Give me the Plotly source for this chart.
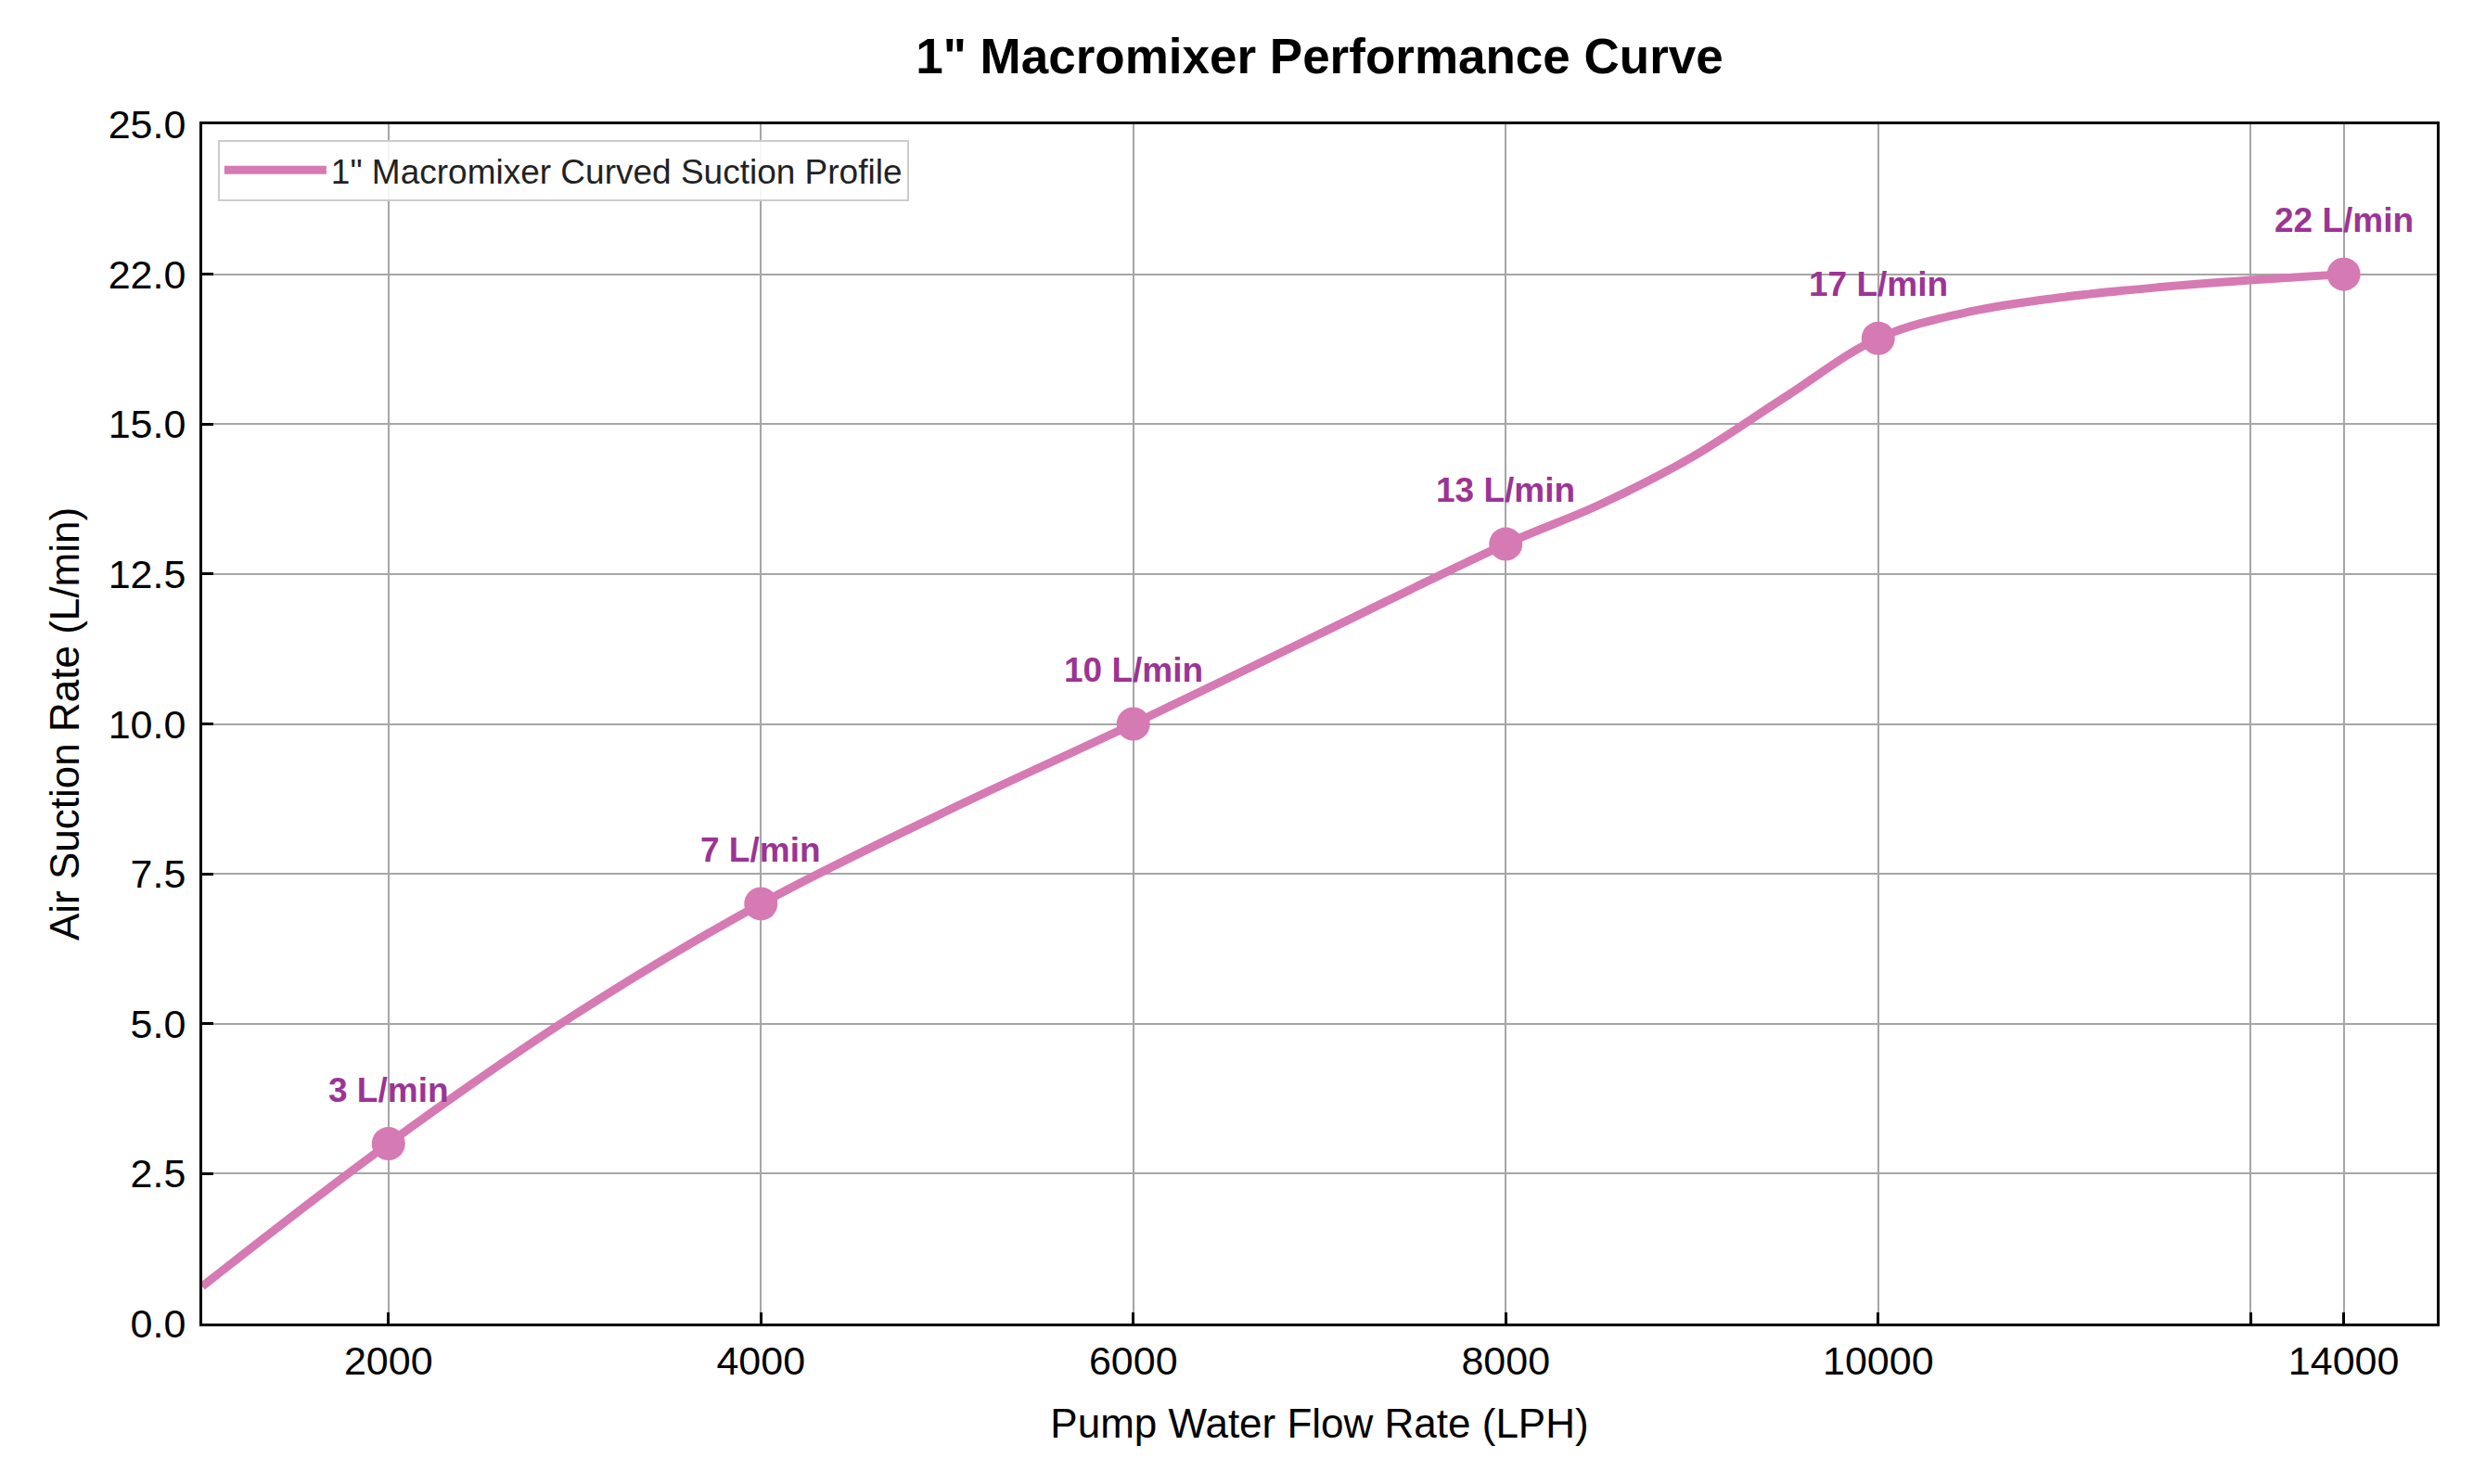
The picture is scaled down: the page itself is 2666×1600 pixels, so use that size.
import plotly.graph_objects as go

# curve (x in LPH, y on the drawn axis)
curve_flow = [1000, 2000, 3000, 4000, 5000, 6000, 7000, 8000, 8500, 9000,
              9500, 10000, 10500, 11000, 11500, 12000, 12500]
curve_suction = [0.62, 3.0, 5.15, 7.0, 8.55, 10.0, 11.5, 13.0, 13.65, 14.45,
                 15.45, 16.43, 16.88, 17.12, 17.28, 17.4, 17.5]

# labelled measurement points
point_flow = [2000, 4000, 6000, 8000, 10000, 12500]
point_suction = [3.0, 7.0, 10.0, 13.0, 16.43, 17.5]
point_labels = ["3 L/min", "7 L/min", "10 L/min", "13 L/min", "17 L/min", "22 L/min"]

# tick labels as printed on the chart
x_tickvals = [2000, 4000, 6000, 8000, 10000, 12000, 12500]
x_ticktext = ["2000", "4000", "6000", "8000", "10000", "", "14000"]
y_tickvals = [0, 2.5, 5, 7.5, 10, 12.5, 15, 17.5, 20]
y_ticktext = ["0.0", "2.5", "5.0", "7.5", "10.0", "12.5", "15.0", "22.0", "25.0"]

line_col = "#D67AB3"
label_col = "#9B3494"
font_fam = "Liberation Sans, Arial, sans-serif"

fig = go.Figure()

fig.add_trace(go.Scatter(
    x=curve_flow, y=curve_suction,
    mode="lines",
    line=dict(color=line_col, width=9, shape="spline", smoothing=1.0),
    name='1" Macromixer Curved Suction Profile',
))

fig.add_trace(go.Scatter(
    x=point_flow, y=point_suction,
    mode="markers",
    marker=dict(color=line_col, size=36, line=dict(width=0)),
    showlegend=False,
))

for fx, sy, lab in zip(point_flow, point_suction, point_labels):
    fig.add_annotation(
        x=fx, y=sy, text="<b>%s</b>" % lab,
        showarrow=False, yshift=58,
        font=dict(size=37, color=label_col, family=font_fam),
    )

axis_common = dict(
    showline=True, linecolor="black", linewidth=3, mirror=True,
    showgrid=True, gridcolor="#A6A6A6", gridwidth=2,
    ticks="inside", ticklen=12, tickwidth=3, tickcolor="black",
    tickfont=dict(size=43, color="black", family=font_fam),
    zeroline=False,
)

fig.update_xaxes(
    range=[1000, 13000], tickmode="array",
    tickvals=x_tickvals, ticktext=x_ticktext,
    title=dict(text="Pump Water Flow Rate (LPH)", standoff=30,
               font=dict(size=44, color="black", family=font_fam)),
    **axis_common,
)
fig.update_yaxes(
    range=[0, 20], tickmode="array",
    tickvals=y_tickvals, ticktext=y_ticktext,
    ticklabelstandoff=6,
    title=dict(text="Air Suction Rate (L/min)", standoff=18,
               font=dict(size=44, color="black", family=font_fam)),
    **axis_common,
)

fig.update_layout(
    width=2666, height=1600,
    margin=dict(l=210, r=47, t=126, b=181),
    paper_bgcolor="white", plot_bgcolor="white",
    title=dict(text='<b>1" Macromixer Performance Curve</b>',
               x=0.5, xref="paper", y=0.9675, yanchor="middle",
               font=dict(size=53, color="black", family=font_fam)),
    legend=dict(x=0.007, y=0.987, xanchor="left", yanchor="top",
                bgcolor="rgba(255,255,255,0.9)", bordercolor="#CCCCCC",
                borderwidth=2, itemwidth=110,
                font=dict(size=37, color="#222222", family=font_fam)),
)

fig.write_html("out.html")
